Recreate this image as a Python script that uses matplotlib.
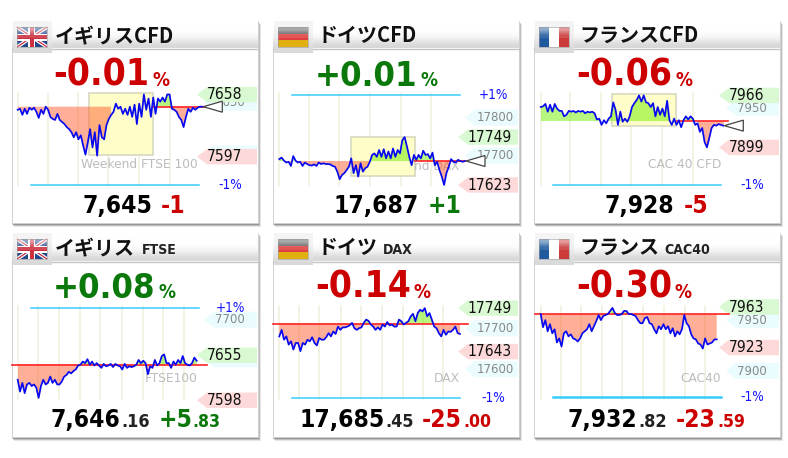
import numpy as np
import matplotlib
matplotlib.use("Agg")
import matplotlib.pyplot as plt
from matplotlib.patches import Rectangle, Polygon

# ---------- data: change against the reference price, in index points ----------
uk_cfd = [-3,-2,-8,-2,-7,-1,-3,-1,-5,-11,-3,-7,0,-3,-10,-12,-13,-7,-13,-15,-17,-20,-22,-25,-30,-25,-32,-28,-38,-47,-35,-22,-40,-25,-48,-18,-30,-32,-18,-12,-8,-5,3,-2,0,-7,-2,-8,0,-10,2,-17,3,-10,12,-3,8,-10,9,-7,8,5,9,5,12,12,-2,-3,-5,-10,-13,-20,-10,-2,-5,-1,-3,-1,0,0]
de_cfd = [5,9,1,-4,-2,-13,13,1,-4,-2,-13,-4,-8,-11,-12,-9,-13,-4,-8,-6,-8,-8,-9,-13,-15,-28,-48,-37,-32,-24,-15,7,-32,-11,-41,-6,-28,-19,-15,-2,16,20,11,29,11,31,7,25,7,33,11,29,20,55,63,38,11,-11,16,3,16,7,27,16,18,7,22,-11,-2,-24,-41,-63,-32,-15,5,-2,-4,3,0,-2,0]
fr_cfd = [18,19,22,12,21,12,22,16,13,13,6,8,13,12,13,11,13,12,13,10,12,11,12,10,2,3,-5,1,-3,3,6,24,14,-5,12,-1,3,-1,6,18,23,27,33,25,33,24,23,18,23,6,18,8,16,6,26,1,-5,3,-5,1,-8,1,6,2,6,3,-5,-3,-14,-9,-27,-34,-22,-9,-5,-6,-4,-5,-6]
uk_idx = [-19,-34,-23,-36,-25,-23,-27,-25,-29,-42,-27,-19,-25,-23,-15,-23,-19,-25,-25,-21,-15,-13,-9,-11,-8,-6,-1,0,4,2,7,0,4,-1,2,-1,-4,1,-2,-1,1,-3,1,-1,-2,-6,1,-4,-2,-3,-2,0,6,2,5,2,-12,-2,-4,6,-1,2,11,13,2,2,-4,4,0,6,2,11,2,0,-1,2,9,5]
de_idx = [-31,-15,-39,-31,-51,-43,-63,-47,-47,-67,-47,-51,-39,-43,-33,-47,-53,-35,-39,-39,-33,-23,-31,-19,-25,-7,-15,-9,-9,-7,-4,2,-11,-15,-11,-9,2,10,7,-2,-7,-15,-9,-15,-2,-7,4,-4,-2,-7,-7,10,6,-2,2,6,18,24,6,26,34,30,38,18,26,10,-7,-11,-23,-31,-15,-27,-19,-20,-15,-7,-23,-25]
fr_idx = [0,-13,-6,-17,-10,-19,-15,-28,-24,-32,-19,-17,-22,-20,-24,-25,-27,-24,-19,-17,-15,-10,-17,-12,-7,-1,-6,-2,-1,0,3,6,1,-1,-1,0,3,3,0,0,-1,-2,-6,-9,-9,-4,-3,-9,-10,-15,-19,-12,-15,-10,-15,-12,-19,-14,-22,-17,-20,-15,-1,-9,-12,-20,-24,-25,-29,-30,-34,-24,-30,-29,-28,-25,-25]

reference = [7646, 17686, 7933, 7643, 17711, 7956]
pct_text = ["-0.01", "+0.01", "-0.06", "+0.08", "-0.14", "-0.30"]
price_text = ["7,645", "17,687", "7,928", "7,646", "17,685", "7,932"]
price_dec = ["", "", "", ".16", ".45", ".82"]
chg_text = ["-1", "+1", "-5", "+5", "-25", "-23"]
chg_dec = ["", "", "", ".83", ".00", ".59"]
titles = ["イギリスCFD", "ドイツCFD", "フランスCFD", "イギリス", "ドイツ", "フランス"]
subtitles = ["", "", "", "FTSE", "DAX", "CAC40"]
marks = ["Weekend FTSE 100", "nd DAX", "CAC 40 CFD", "FTSE100", "DAX", "CAC40"]
pct_band = ["-1%", "+1%", "-1%", "+1%", "-1%", "-1%"]
tags_hi = [7658, 17749, 7966, 7655, 17749, 7963]
tags_lo = [7597, 17623, 7899, 7598, 17643, 7923]
tags_grid = [[7650, 7600], [17800, 17700], [7950], [7700, 7650], [17700, 17600], [7950, 7900]]
hidden_grid = [[7600], [], [], [7650], [], []]
series = [uk_cfd, de_cfd, fr_cfd, uk_idx, de_idx, fr_idx]

# ---------- layout, in figure pixels ----------
W, H = 788, 458
CARD_X = [12, 273, 534, 12, 273, 534]
CARD_W = 246
ROW = [(21, 223, 48), (21, 223, 48), (21, 223, 48), (233, 437, 261), (233, 437, 261), (233, 437, 261)]
X_SPAN = [(17.7, 202.3), (279.3, 465), (540.7, 723.3), (17.7, 196.7), (279.3, 460), (540.7, 716.7)]
REF_PY = [106.7, 161, 121, 364.7, 323.7, 314]
PX_PER_PT = [1.02, 0.38, 0.776, 0.79, 0.41, 1.017]
BAND_PY = [185, 94.7, 185, 308, 398, 397]
BAND_X = [(31, 199), (292, 460), (553, 721), (31, 199), (292, 460), (553, 721)]
BAND_LW = [1.1, 1.1, 1.1, 1.1, 1.1, 1.8]
BAND_LBL = [230, 493, 752, 230, 493, 752]
GRID_X = [[18, 48, 78, 108, 139, 170], [279, 309, 339, 370, 401, 431], [541, 570, 601, 631, 662, 693],
          [18, 38, 59, 80, 100, 122, 143, 163, 184], [279, 299, 319, 341, 361, 382, 403, 423, 443],
          [541, 561, 581, 602, 622, 643, 664, 685, 705]]
GRID_Y = [(93, 186), (93, 186), (93, 186), (306, 399), (306, 399), (306, 399)]
BOX = [(89, 153, 93, 155), (351, 415, 137, 176), (612, 676, 94, 126), None, None, None]
RED_X = [(153, 207), (415, 465), (677, 728), (12, 207), (273, 468), (535, 729)]
NO_BELOW = [(40, 58), None, (0, 67), None, None, None]
NO_ABOVE = [(0, 58), None, None, None, None, None]
TRIANGLE = [True, True, True, False, False, False]
MARK_XY = [(198, 165), (459, 166), (721, 165), (198, 378), (460, 378), (721, 378)]
PCT_X = [(53, 153), (315, 421), (576, 676), (53, 159), (315, 414), (576, 675)]
PRICE_X = [(83, 161, None, None), (334, 428, None, None), (605, 684, None, None),
           (51, 159, 122, 194), (300, 422, 386, 465), (568, 676, 639, 719)]
TITLE_X = [55, 318, 579, 55, 318, 579]
SUB_X = [None, None, None, 142, 383, 664]
RED, GREEN, BLUE = "#cc0000", "#0a780a", "#1414ff"
COND = dict(family="DejaVu Sans", stretch="condensed")


def pt(px):
    return px * 0.72


fig = plt.figure(figsize=(W / 100, H / 100), dpi=100, facecolor="white")
ax0 = fig.add_axes([0, 0, 1, 1], zorder=0)
ax0.set_axis_off()
JP = ["Noto Sans CJK JP", "DejaVu Sans"]


def gradient(x0, x1, y0, y1, stops, z):
    arr = np.array(stops)[:, None, :]
    ax0.imshow(arr, extent=(x0, x1, y1, y0), aspect="auto", zorder=z, interpolation="bicubic")


def draw_flag(i, x, y):
    w, h = 30, 20
    if i % 3 == 0:
        ax0.add_patch(Rectangle((x, y), w, h, fc="#24488c", ec="none", zorder=5))
        for a, b in [((0, 0), (w, h)), ((0, h), (w, 0))]:
            ax0.plot([x + a[0], x + b[0]], [y + a[1], y + b[1]], color="white", lw=2.6, zorder=5.1, solid_capstyle="butt")
            ax0.plot([x + a[0], x + b[0]], [y + a[1], y + b[1]], color="#cc3040", lw=0.9, zorder=5.2, solid_capstyle="butt")
        ax0.add_patch(Rectangle((x + 11.5, y), 7, h, fc="white", ec="none", zorder=5.3))
        ax0.add_patch(Rectangle((x, y + 6.5), w, 7, fc="white", ec="none", zorder=5.3))
        ax0.add_patch(Rectangle((x + 13, y), 4, h, fc="#cc3040", ec="none", zorder=5.4))
        ax0.add_patch(Rectangle((x, y + 8), w, 4, fc="#cc3040", ec="none", zorder=5.4))
    elif i % 3 == 1:
        for k, c in enumerate(["#555555", "#e04040", "#e0b010"]):
            ax0.add_patch(Rectangle((x, y + k * h / 3), w, h / 3 + 0.2, fc=c, ec="none", zorder=5))
    else:
        for k, c in enumerate(["#1f5a9e", "#ffffff", "#cc3a3a"]):
            ax0.add_patch(Rectangle((x + k * w / 3, y), w / 3 + 0.2, h, fc=c, ec="none", zorder=5))
    gloss = np.ones((2, 1, 4))
    gloss[0, 0, 3] = 0.5
    gloss[1, 0, 3] = 0.12
    ax0.imshow(gloss, extent=(x, x + w, y + h * 0.55, y), aspect="auto", zorder=5.6, interpolation="bilinear")
    ax0.add_patch(Rectangle((x, y), w, h, fc="none", ec="#999999", lw=0.4, zorder=5.7))


def draw_tag(x0, py, kind, text, xc, px):
    fc = {"hi": "#d8f9d2", "lo": "#fdd9d9", "grid": "#eafcfd"}[kind]
    tip = x0 + (192 if kind == "grid" else 185)
    hh = 8 if kind == "grid" else 7.7
    ax0.add_patch(Polygon([(tip, py), (tip + 10, py - hh), (x0 + 245, py - hh), (x0 + 245, py + hh), (tip + 10, py + hh)],
                          closed=True, fc=fc, ec="none", zorder=3 if kind == "grid" else 3.5))
    if text:
        ax0.text(xc, py + 0.3, text, fontsize=pt(px), ha="center", va="center",
                 color="#888888" if kind == "grid" else "#111111", zorder=3.2 if kind == "grid" else 3.6, **COND)


for i, vals in enumerate(series):
    x0, (top, bot, head) = CARD_X[i], ROW[i]
    x1 = x0 + CARD_W
    for s, a in [(3.5, 0.10), (2.5, 0.16), (1.5, 0.22)]:
        ax0.add_patch(Rectangle((x0 + s - 1, top + s - 1), CARD_W + 1, bot - top + 1, fc="black", alpha=a, ec="none", zorder=1))
    ax0.add_patch(Rectangle((x0, top), CARD_W, bot - top, fc="white", ec="#d0d0d0", lw=0.6, zorder=1.5))
    gradient(x0, x1, top, head, [[1, 1, 1], [1, 1, 1], [0.97, 0.97, 0.97], [0.84, 0.84, 0.84]], 2)
    ax0.plot([x0, x1], [head + 0.5, head + 0.5], color="#c4c4c4", lw=1, zorder=2.1)
    gradient(x0 + 1, x0 + 40, top, top + 32, [[0.96, 0.96, 0.96], [0.94, 0.94, 0.94], [0.85, 0.85, 0.85]], 2.5)
    draw_flag(i, x0 + 5, top + 6)

    ax0.text(TITLE_X[i], top + 14.5, titles[i], fontsize=pt(20), family=JP, fontweight="bold", ha="left", va="center", color="#111111", zorder=6)
    if subtitles[i]:
        ax0.text(SUB_X[i], top + 21, subtitles[i], fontsize=pt(14), fontweight="bold", ha="left", va="baseline", color="#222222", zorder=6, **COND)

    plus = pct_text[i].startswith("+")
    col = GREEN if plus else RED
    base = top + 65
    ax0.text(PCT_X[i][0], base, pct_text[i], fontsize=pt(34.5 if plus else 37), fontweight="bold", ha="left", va="baseline", color=col, zorder=6, **COND)
    ax0.text(PCT_X[i][1], base, "%", fontsize=pt(19), fontweight="bold", ha="left", va="baseline", color=col, zorder=6, **COND)

    base2 = bot - 10
    px, cx, dx, cdx = PRICE_X[i]
    chg_col = GREEN if chg_text[i].startswith("+") else RED
    ax0.text(px, base2, price_text[i], fontsize=pt(24.5), fontweight="bold", ha="left", va="baseline", color="#000000", zorder=6, **COND)
    ax0.text(cx, base2, chg_text[i], fontsize=pt(24.5), fontweight="bold", ha="left", va="baseline", color=chg_col, zorder=6, **COND)
    if dx:
        ax0.text(dx - 1, base2, price_dec[i], fontsize=pt(18), fontweight="bold", ha="left", va="baseline", color="#222222", zorder=6, **COND)
        ax0.text(cdx - 2, base2, chg_dec[i], fontsize=pt(17.5), fontweight="bold", ha="left", va="baseline", color=chg_col, zorder=6, **COND)

    for gx in GRID_X[i]:
        ax0.plot([gx, gx], GRID_Y[i], color="#f0f0de", lw=1.1, zorder=2.6)
    if BOX[i]:
        bx0, bx1, by0, by1 = BOX[i]
        ax0.add_patch(Rectangle((bx0, by0), bx1 - bx0, by1 - by0, fc="#fffdc8", ec="#d8d8c0", lw=1.2, zorder=2.7))

    ax0.text(*MARK_XY[i], marks[i], fontsize=pt(12.3), family="DejaVu Sans", ha="right", va="center", color="#bcbcbc", zorder=2.8)

    ax0.plot(BAND_X[i], [BAND_PY[i]] * 2, color="#38ccff", lw=BAND_LW[i], zorder=2.9)
    ax0.text(BAND_LBL[i], BAND_PY[i], pct_band[i], fontsize=pt(13.5), ha="center", va="center", color=BLUE, zorder=6, **COND)

    def py_of(p, i=i):
        return REF_PY[i] - (p - reference[i]) * PX_PER_PT[i]

    for g in tags_grid[i]:
        shown = "" if g in hidden_grid[i] else str(g)
        draw_tag(x0, py_of(g), "grid", shown, x0 + (222 if g > 9999 else 217.5), 13)
    for t, kind in [(tags_hi[i], "hi"), (tags_lo[i], "lo")]:
        draw_tag(x0, py_of(t), kind, str(t), x0 + (217 if t > 9999 else 213), 15.5)

    # price panel
    prices = reference[i] + np.array(vals, dtype=float)
    n = len(prices)
    xs = np.arange(n)
    sx0, sx1 = X_SPAN[i]
    ptop, pbot = top + 60, bot - 28
    ax = fig.add_axes([sx0 / W, 1 - pbot / H, (sx1 - sx0) / W, (pbot - ptop) / H], zorder=2 + i * 0.01)
    ax.patch.set_alpha(0)
    ax.set_axis_off()
    ax.set_xlim(0, n - 1)
    ax.set_ylim(reference[i] - (pbot - REF_PY[i]) / PX_PER_PT[i], reference[i] + (REF_PY[i] - ptop) / PX_PER_PT[i])

    fine = np.linspace(0, n - 1, (n - 1) * 12 + 1)
    yf = np.interp(fine, xs, prices)
    below = yf < reference[i]
    above = yf > reference[i]
    if NO_BELOW[i]:
        below &= ~((fine >= NO_BELOW[i][0]) & (fine <= NO_BELOW[i][1]))
    if NO_ABOVE[i]:
        above &= ~((fine >= NO_ABOVE[i][0]) & (fine <= NO_ABOVE[i][1]))
    ax.fill_between(fine, yf, reference[i], where=below, color="#ff6030", alpha=0.5, lw=0)
    ax.fill_between(fine, yf, reference[i], where=above, color="#70ee00", alpha=0.5, lw=0)

    to_x = lambda p: (p - sx0) / (sx1 - sx0) * (n - 1)
    ax.plot([to_x(RED_X[i][0]), to_x(RED_X[i][1])], [reference[i]] * 2, color="#ff2a2a", lw=1.25, clip_on=False, zorder=3)
    ax.plot(xs, prices, color="#0808f0", lw=1.25, clip_on=False, zorder=4, solid_joinstyle="round")

    if TRIANGLE[i]:
        ty = py_of(prices[-1])
        ax.add_patch(Polygon([(sx1 + 1, ty), (sx1 + 20, ty - 5.5), (sx1 + 20, ty + 5.5)], closed=True, fc="white",
                             ec="#444444", lw=0.9, transform=ax0.transData, clip_on=False, zorder=5))

ax0.set_xlim(0, W)
ax0.set_ylim(H, 0)
fig.savefig("out.png", dpi=100, facecolor="white")
